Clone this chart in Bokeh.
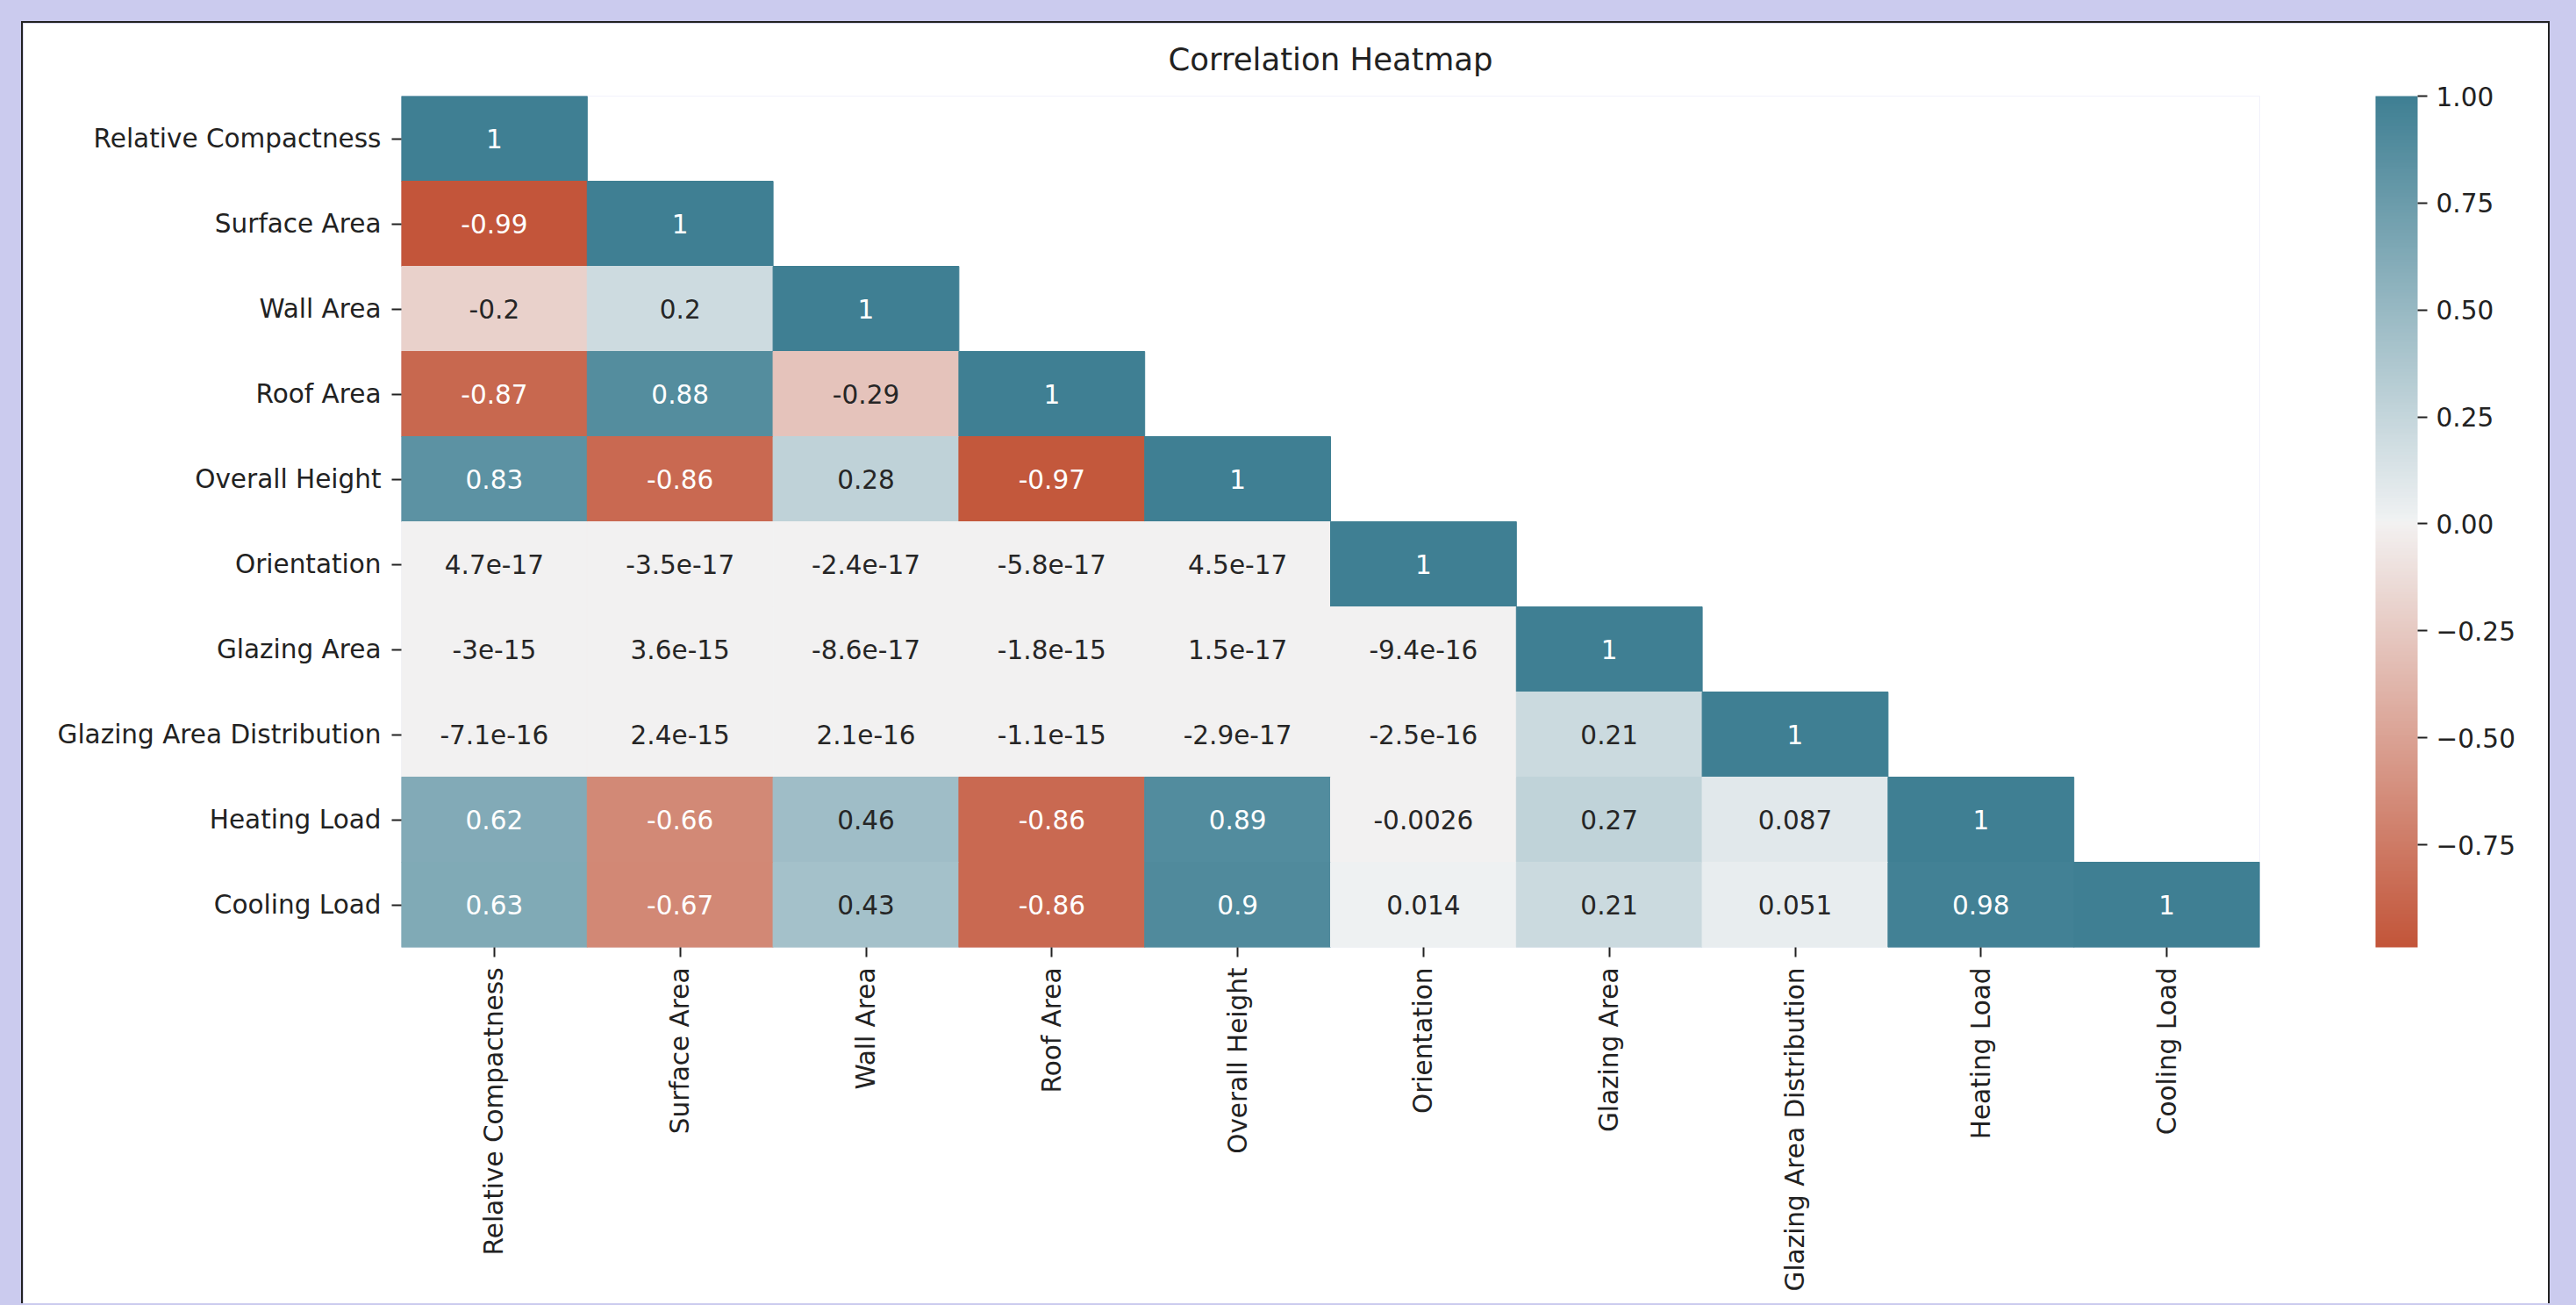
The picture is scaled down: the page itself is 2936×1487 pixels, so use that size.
import math
from bokeh.plotting import figure
from bokeh.models import (ColumnDataSource, LinearColorMapper, ColorBar, FixedTicker,
                          CustomJSTickFormatter, FactorRange)
from bokeh.transform import transform
from bokeh.layouts import column
from bokeh.embed import file_html
from bokeh.resources import INLINE
from bokeh.core.properties import value

# ---------------- data ----------------
title_text = "Correlation Heatmap"
features = ["Relative Compactness", "Surface Area", "Wall Area", "Roof Area",
            "Overall Height", "Orientation", "Glazing Area",
            "Glazing Area Distribution", "Heating Load", "Cooling Load"]

corr_relative_compactness = [1.0]
corr_surface_area = [-0.99, 1.0]
corr_wall_area = [-0.2, 0.2, 1.0]
corr_roof_area = [-0.87, 0.88, -0.29, 1.0]
corr_overall_height = [0.83, -0.86, 0.28, -0.97, 1.0]
corr_orientation = [4.7e-17, -3.5e-17, -2.4e-17, -5.8e-17, 4.5e-17, 1.0]
corr_glazing_area = [-3e-15, 3.6e-15, -8.6e-17, -1.8e-15, 1.5e-17, -9.4e-16, 1.0]
corr_glazing_area_distribution = [-7.1e-16, 2.4e-15, 2.1e-16, -1.1e-15, -2.9e-17,
                                  -2.5e-16, 0.21, 1.0]
corr_heating_load = [0.62, -0.66, 0.46, -0.86, 0.89, -0.0026, 0.27, 0.087, 1.0]
corr_cooling_load = [0.63, -0.67, 0.43, -0.86, 0.9, 0.014, 0.21, 0.051, 0.98, 1.0]

colorbar_ticks = [-0.75, -0.5, -0.25, 0.0, 0.25, 0.5, 0.75, 1.0]

lower_rows = [corr_relative_compactness, corr_surface_area, corr_wall_area,
              corr_roof_area, corr_overall_height, corr_orientation,
              corr_glazing_area, corr_glazing_area_distribution,
              corr_heating_load, corr_cooling_load]

# ---------------- seaborn-like diverging palette (husl 20 -> 220) ----------------
_M = [[3.2406, -1.5372, -0.4986],
      [-0.9689, 1.8758, 0.0415],
      [0.0557, -0.2040, 1.0570]]
_refU, _refV = 0.19784, 0.46834


def _max_chroma(L, H):
    hrad = math.radians(H)
    sinH, cosH = math.sin(hrad), math.cos(hrad)
    sub1 = (L + 16) ** 3 / 1560896.0
    sub2 = sub1 if sub1 > 0.008856 else L / 903.3
    result = float("inf")
    for m1, m2, m3 in _M:
        top = (0.99915 * m1 + 1.05122 * m2 + 1.14460 * m3) * sub2
        rbottom = 0.86330 * m3 - 0.17266 * m2
        lbottom = 0.12949 * m3 - 0.38848 * m1
        bottom = (rbottom * sinH + lbottom * cosH) * sub2
        for t in (0.0, 1.0):
            C = L * (top - 1.05122 * t) / (bottom + 0.17266 * sinH * t)
            if 0.0 < C < result:
                result = C
    return result


def _husl_to_rgb(H, S, L):
    if L > 99.9999999 or L < 1e-8:
        C = 0.0
    else:
        C = _max_chroma(L, H) / 100.0 * S
    hrad = math.radians(H)
    U, V = math.cos(hrad) * C, math.sin(hrad) * C
    if L == 0:
        return (0.0, 0.0, 0.0)
    t = (L + 16.0) / 116.0
    varY = t ** 3 if t ** 3 > 0.008856 else (116.0 * t - 16.0) / 903.3
    varU = U / (13.0 * L) + _refU
    varV = V / (13.0 * L) + _refV
    Y = varY
    X = 0.0 - (9.0 * Y * varU) / ((varU - 4.0) * varV - varU * varV)
    Z = (9.0 * Y - (15.0 * varV * Y) - (varV * X)) / (3.0 * varV)
    out = []
    for row in _M:
        c = row[0] * X + row[1] * Y + row[2] * Z
        c = 12.92 * c if c <= 0.0031308 else 1.055 * c ** (1 / 2.4) - 0.055
        out.append(min(max(c, 0.0), 1.0))
    return tuple(out)


neg_end = _husl_to_rgb(20, 75, 50)
neg_gray = _husl_to_rgb(20, 75 * 0.15, 95)
mid = (0.95, 0.95, 0.95)
pos_gray = _husl_to_rgb(220, 75 * 0.15, 95)
pos_end = _husl_to_rgb(220, 75, 50)
anchors = [(0.0, neg_end), (127 / 256, neg_gray), (128 / 256, mid),
           (129 / 256, pos_gray), (1.0, pos_end)]


def _interp(x):
    for (x0, c0), (x1, c1) in zip(anchors[:-1], anchors[1:]):
        if x <= x1:
            f = 0.0 if x1 == x0 else (x - x0) / (x1 - x0)
            return tuple(a + (b - a) * f for a, b in zip(c0, c1))
    return anchors[-1][1]


palette_rgb = [_interp(k / 255) for k in range(256)]
palette = ["#" + "".join(format(int(round(c * 255)), "02x") for c in rgb) for rgb in palette_rgb]

all_vals = [v for r in lower_rows for v in r]
vmin, vmax = min(all_vals), max(all_vals)
mapper = LinearColorMapper(palette=palette, low=vmin, high=vmax)


def _lum(rgb):
    lin = [c / 12.92 if c <= 0.03928 else ((c + 0.055) / 1.055) ** 2.4 for c in rgb]
    return 0.2126 * lin[0] + 0.7152 * lin[1] + 0.0722 * lin[2]


xs, ys, vs, txt, tcol = [], [], [], [], []
for i, row in enumerate(lower_rows):
    for j, v in enumerate(row):
        xs.append(features[j])
        ys.append(features[i])
        vs.append(v)
        txt.append(format(v, ".2g"))
        idx = int((v - vmin) / (vmax - vmin) * 256)
        idx = min(max(idx, 0), 255)
        tcol.append("#262626" if _lum(palette_rgb[idx]) > 0.408 else "#ffffff")

src = ColumnDataSource(dict(x=xs, y=ys, v=vs, label=txt, tc=tcol))

FONT = "DejaVu Sans"
TXT = "#222222"
FRAME_W, FRAME_H = 2118, 970

p = figure(width=2882, height=1461,
           x_range=FactorRange(*features),
           y_range=FactorRange(*list(reversed(features))),
           output_backend="svg", toolbar_location=None, tools="",
           min_border_left=431, min_border_top=83,
           min_border_right=333, min_border_bottom=408)

p.rect(x="x", y="y", width=1, height=1, source=src,
       fill_color=transform("v", mapper), line_color=transform("v", mapper),
       line_width=1)
p.text(x="x", y="y", text="label", source=src, text_align="center",
       text_baseline="middle", text_font=value(FONT),
       text_font_size=value("29.5px"), text_color="tc")

p.title.text = title_text
p.title.align = "center"
p.title.vertical_align = "top"
p.title.text_font = FONT
p.title.text_font_size = "35.5px"
p.title.text_font_style = "normal"
p.title.text_color = TXT
p.title.standoff = 39

p.outline_line_color = None
p.grid.grid_line_color = None
p.background_fill_color = "white"
p.border_fill_color = "white"

for ax in (p.xaxis[0], p.yaxis[0]):
    ax.axis_line_color = None
    ax.major_tick_in = 0
    ax.major_tick_out = 11
    ax.major_tick_line_width = 2
    ax.major_tick_line_color = TXT
    ax.minor_tick_line_color = None
    ax.major_label_text_font = FONT
    ax.major_label_text_font_size = "29.5px"
    ax.major_label_text_color = TXT
    ax.major_label_standoff = 12
p.xaxis.major_label_orientation = math.pi / 2

cb = ColorBar(color_mapper=mapper,
              ticker=FixedTicker(ticks=colorbar_ticks),
              formatter=CustomJSTickFormatter(
                  code="return (tick < 0 ? '\\u2212' : '') + Math.abs(tick).toFixed(2);"),
              width=48, height=FRAME_H, padding=0, margin=0,
              location=(FRAME_W + 132, 0),
              major_label_text_font=FONT, major_label_text_font_size="29.5px",
              major_label_text_color=TXT,
              major_tick_out=11, major_tick_in=0, major_tick_line_color=TXT,
              major_tick_line_width=2, minor_tick_line_color=None,
              label_standoff=10, bar_line_color=None, border_line_color=None,
              background_fill_color=None)
p.add_layout(cb, "center")

p.margin = (24, 0, 0, 24)
p.styles = {"border-top": "2px solid #222222", "border-left": "2px solid #222222",
            "border-right": "2px solid #222222"}

root = column(p, width=2936, height=1487, styles={"background-color": "#CBCBEE"})

open("out.html", "w").write(file_html(root, INLINE))
